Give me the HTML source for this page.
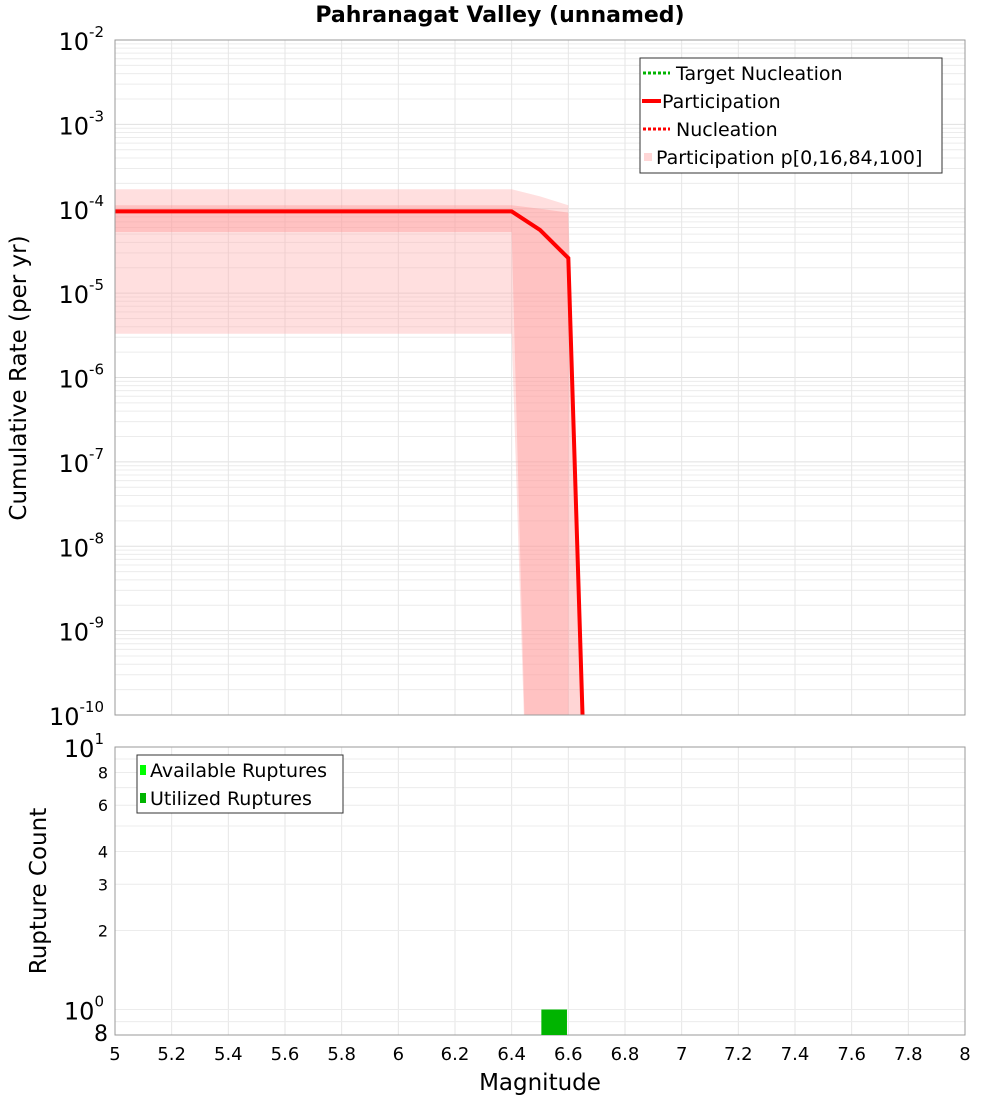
<!DOCTYPE html>
<html><head><meta charset="utf-8"><style>
body{margin:0;background:#fff;font-family:"Liberation Sans","DejaVu Sans",sans-serif}
svg text{font-family:"DejaVu Sans","Liberation Sans",sans-serif}
</style></head><body>
<svg id="c" width="1000" height="1100" xmlns="http://www.w3.org/2000/svg">
<defs>
<clipPath id="clipTop"><rect x="115" y="40" width="850" height="675"/></clipPath>
<clipPath id="clipBot"><rect x="115" y="747" width="850" height="288"/></clipPath>
</defs>
<rect x="0" y="0" width="1000" height="1100" fill="#fff"/>
<text x="500" y="22" text-anchor="middle" font-size="22" font-weight="bold">Pahranagat Valley (unnamed)</text>
<g id="topPlot"></g>
<g id="botPlot"></g>
<text x="540" y="1090" text-anchor="middle" font-size="23">Magnitude</text>
<text transform="translate(26,378) rotate(-90)" text-anchor="middle" font-size="23">Cumulative Rate (per yr)</text>
<text transform="translate(46,891) rotate(-90)" text-anchor="middle" font-size="23">Rupture Count</text>
</svg>
<script>
// data
const lineMags = [5.0, 6.4, 6.5, 6.6, 6.7];
const participation = [9.3e-5, 9.3e-5, 5.6e-5, 2.6e-5, 4e-16];
const bandMags = [5.0, 6.4, 6.5, 6.6, 6.7];
const p0 = [3.3e-6, 3.3e-6, 1e-16, 1e-16, 1e-16];
const p16 = [5.3e-5, 5.3e-5, 1e-17, 1e-17, 1e-17];
const p84 = [1.1e-4, 1.1e-4, 1.0e-4, 9.0e-5, 1e-15];
const p100 = [1.7e-4, 1.7e-4, 1.4e-4, 1.1e-4, null];
const barMags = [6.55];
const availableCounts = [1];
const utilizedCounts = [1];
const xTicks = [5,5.2,5.4,5.6,5.8,6,6.2,6.4,6.6,6.8,7,7.2,7.4,7.6,7.8,8];
const xTickLabels = ["5","5.2","5.4","5.6","5.8","6","6.2","6.4","6.6","6.8","7","7.2","7.4","7.6","7.8","8"];
const topDecades = [-2,-3,-4,-5,-6,-7,-8,-9,-10];
const botTicks = [0.8,1,2,3,4,6,8,10];

const NS="http://www.w3.org/2000/svg";
const X=m=>115+(m-5)*850/3;
const YT=v=>40+(-2-Math.log10(v))*84.375;
const YB=v=>1035-(Math.log10(v)-Math.log10(0.8))*(288/(1-Math.log10(0.8)));
function mk(p,t,a){const e=document.createElementNS(NS,t);for(const k in a)e.setAttribute(k,a[k]);p.appendChild(e);return e;}
const topG=document.getElementById('topPlot'),botG=document.getElementById('botPlot');

for(let d=-10;d<-2;d++){for(let k=1;k<10;k++){const y=YT(k*Math.pow(10,d));const g=mk(topG,'line',{x1:115,x2:965,y1:y,y2:y,stroke:k==1?'#e0e0e0':'#ececec','stroke-width':1});

}}
for(const t of xTicks){const x=X(t);const g=mk(topG,'line',{x1:x,x2:x,y1:40,y2:715,stroke:'#e6e6e6'});


const g2=mk(botG,'line',{x1:x,x2:x,y1:747,y2:1035,stroke:'#e6e6e6'});

}
const botGridVals=[0.8,0.9,1,2,3,4,5,6,7,8,9,10];
botGridVals.forEach(v=>{const y=YB(v);const g=mk(botG,'line',{x1:115,x2:965,y1:y,y2:y,stroke:'#ececec'});

});

(function(){const pts=[];for(let i=0;i<4;i++)pts.push(X(bandMags[i])+','+YT(p100[i]));
pts.push(X(6.6)+','+YT(p84[3]*0.3));
for(let i=3;i>=0;i--)pts.push(X(bandMags[i])+','+YT(p0[i]));
const p=mk(topG,'polygon',{points:pts.join(' '),fill:'rgba(255,170,170,0.38)','clip-path':'url(#clipTop)'});

})();
(function(){const pts=[];bandMags.forEach((m,i)=>pts.push(X(m)+','+YT(p84[i])));
for(let i=bandMags.length-1;i>=0;i--)pts.push(X(bandMags[i])+','+YT(p16[i]));
const p=mk(topG,'polygon',{points:pts.join(' '),fill:'rgba(255,150,150,0.4)','clip-path':'url(#clipTop)'});

})();

const ln=mk(topG,'polyline',{points:lineMags.map((m,i)=>X(m)+','+YT(participation[i])).join(' '),fill:'none',stroke:'#ff0000','stroke-width':4,'clip-path':'url(#clipTop)'});



const f1=mk(topG,'rect',{x:115,y:40,width:850,height:675,fill:'none',stroke:'#999'});


const f2=mk(botG,'rect',{x:115,y:747,width:850,height:288,fill:'none',stroke:'#999'});



topDecades.forEach(d=>{const y=YT(Math.pow(10,d));const t=mk(topG,'text',{x:104,y:y+10,'text-anchor':'end','font-size':24});


t.textContent='10';const s=mk(t,'tspan',{dy:-13,'font-size':15});s.textContent=String(d);});

xTicks.forEach((v,i)=>{const t=mk(botG,'text',{x:X(v),y:1060,'text-anchor':'middle','font-size':18});


t.textContent=xTickLabels[i];});

botTicks.forEach(v=>{const y=YB(v);let t;
if(v==1||v==10){t=mk(botG,'text',{x:104,y:y+10,'text-anchor':'end','font-size':24});t.textContent='10';const s=mk(t,'tspan',{dy:-13,'font-size':15});s.textContent=v==1?'0':'1';}
else{t=mk(botG,'text',{x:108,y:y+6,'text-anchor':'end','font-size':v==0.8?22:16});t.textContent=v==0.8?'8':String(v);}

});

barMags.forEach((m,i)=>{const a=mk(botG,'rect',{x:X(m-0.045),y:YB(availableCounts[i]),width:X(m+0.045)-X(m-0.045),height:1035-YB(availableCounts[i]),fill:'#00ff00'});


const u=mk(botG,'rect',{x:X(m-0.045),y:YB(utilizedCounts[i]),width:X(m+0.045)-X(m-0.045),height:1035-YB(utilizedCounts[i]),fill:'#00b400'});

});

const lg=mk(topG,'g',{});


mk(lg,'rect',{x:640,y:58,width:302,height:115,fill:'#fff',stroke:'#333'});
const items=[['Target Nucleation','dot','#00b400'],['Participation','solid','#ff0000'],['Nucleation','dot','#ff0000'],['Participation p[0,16,84,100]','sq','#ffd6d6']];
items.forEach((it,i)=>{const y=73+i*28;const g=mk(lg,'g',{});


let tx=676;
if(it[1]=='dot')mk(g,'line',{x1:643,x2:670,y1:y,y2:y,stroke:it[2],'stroke-width':3,'stroke-dasharray':'3,2'});
else if(it[1]=='solid'){mk(g,'line',{x1:642,x2:661,y1:y,y2:y,stroke:it[2],'stroke-width':4});tx=662;}
else{mk(g,'rect',{x:644,y:y-4,width:8,height:8,fill:it[2]});tx=656;}
const t=mk(g,'text',{x:tx,y:y+7,'font-size':19});t.textContent=it[0];});
const lb=mk(botG,'g',{});


mk(lb,'rect',{x:137,y:755,width:206,height:58,fill:'#fff',stroke:'#333'});
[['Available Ruptures','#00ff00'],['Utilized Ruptures','#00b400']].forEach((it,i)=>{const y=770+i*28;const g=mk(lb,'g',{});


mk(g,'rect',{x:140,y:y-5,width:6,height:10,fill:it[1]});
const t=mk(g,'text',{x:150,y:y+7,'font-size':19});t.textContent=it[0];});
</script>
</body></html>
